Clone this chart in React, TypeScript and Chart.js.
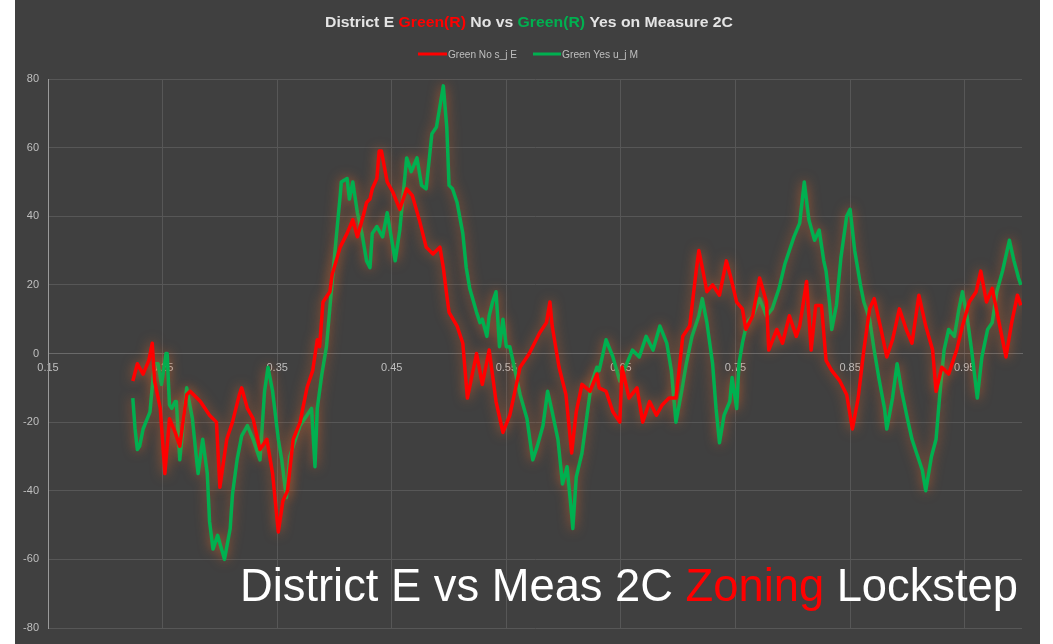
import React, { useEffect, useRef } from "react";
import { Chart, registerables } from "chart.js";

Chart.register(...registerables);

const redLabel = "Green No s_j E";
const greenLabel = "Green Yes u_j M";
const yTicks = [-80, -60, -40, -20, 0, 20, 40, 60, 80];
const xTickLabels = ["0.15", "0.25", "0.35", "0.45", "0.55", "0.65", "0.75", "0.85", "0.95"];

const redX = [0.224, 0.228, 0.233, 0.238, 0.241, 0.243, 0.248, 0.252, 0.256, 0.261, 0.265, 0.271, 0.274, 0.283, 0.291, 0.297, 0.300, 0.306, 0.311, 0.317, 0.319, 0.324, 0.329, 0.335, 0.341, 0.346, 0.351, 0.355, 0.359, 0.364, 0.370, 0.376, 0.381, 0.385, 0.387, 0.390, 0.396, 0.398, 0.405, 0.411, 0.416, 0.420, 0.425, 0.428, 0.431, 0.433, 0.437, 0.439, 0.441, 0.446, 0.451, 0.457, 0.463, 0.468, 0.474, 0.480, 0.486, 0.492, 0.495, 0.498, 0.500, 0.507, 0.509, 0.512, 0.516, 0.524, 0.529, 0.535, 0.541, 0.547, 0.553, 0.562, 0.570, 0.579, 0.585, 0.588, 0.590, 0.596, 0.602, 0.607, 0.611, 0.616, 0.623, 0.629, 0.631, 0.637, 0.643, 0.649, 0.651, 0.657, 0.664, 0.669, 0.675, 0.681, 0.686, 0.692, 0.698, 0.704, 0.710, 0.716, 0.718, 0.721, 0.725, 0.730, 0.736, 0.742, 0.746, 0.751, 0.756, 0.759, 0.765, 0.771, 0.777, 0.779, 0.786, 0.791, 0.797, 0.803, 0.806, 0.812, 0.816, 0.820, 0.825, 0.829, 0.834, 0.841, 0.847, 0.852, 0.857, 0.862, 0.867, 0.871, 0.877, 0.882, 0.887, 0.893, 0.899, 0.904, 0.910, 0.916, 0.922, 0.925, 0.930, 0.936, 0.943, 0.948, 0.954, 0.960, 0.964, 0.969, 0.974, 0.980, 0.986, 0.991, 0.996, 0.999];
const redY = [-8, -3, -6, -2, 3, -8, -16, -35, -19, -23, -27, -12, -11, -14, -18, -20, -39, -25, -20, -12, -10, -16, -19, -28, -25, -35, -52, -43, -40, -25, -20, -10, -5, 4, 2, 15, 18, 23, 31, 35, 39, 34, 40, 44, 45, 48, 51, 59, 59, 50, 47, 42, 48, 46, 39, 31, 29, 31, 25, 17, 12, 8, 6, 3, -13, 0, -9, 1, -14, -23, -18, -4, 0, 6, 9, 15, 8, -4, -12, -29, -17, -9, -11, -6, -10, -11, -17, -20, -4, -13, -10, -20, -14, -18, -15, -13, -13, 5, 8, 25, 30, 25, 18, 20, 17, 27, 22, 15, 13, 7, 11, 22, 15, 1, 7, 3, 11, 5, 8, 21, 1, 14, 14, -2, -5, -8, -12, -22, -13, 1, 13, 16, 7, -1, 4, 13, 7, 3, 17, 8, 1, -11, -4, -6, 1, 8, 15, 18, 24, 15, 19, 9, -1, 9, 17, 14];

const greenX = [0.224, 0.226, 0.228, 0.230, 0.233, 0.239, 0.242, 0.243, 0.246, 0.249, 0.253, 0.254, 0.256, 0.258, 0.261, 0.262, 0.265, 0.271, 0.276, 0.280, 0.281, 0.285, 0.289, 0.291, 0.294, 0.298, 0.304, 0.309, 0.311, 0.315, 0.319, 0.324, 0.329, 0.335, 0.339, 0.342, 0.346, 0.351, 0.354, 0.358, 0.361, 0.365, 0.370, 0.376, 0.380, 0.383, 0.385, 0.389, 0.393, 0.398, 0.403, 0.405, 0.406, 0.411, 0.413, 0.416, 0.420, 0.424, 0.428, 0.431, 0.433, 0.437, 0.442, 0.446, 0.453, 0.457, 0.463, 0.467, 0.472, 0.476, 0.480, 0.485, 0.489, 0.494, 0.495, 0.498, 0.500, 0.503, 0.507, 0.512, 0.515, 0.518, 0.524, 0.527, 0.529, 0.533, 0.535, 0.538, 0.541, 0.544, 0.547, 0.550, 0.553, 0.555, 0.562, 0.568, 0.573, 0.577, 0.582, 0.586, 0.590, 0.595, 0.599, 0.603, 0.607, 0.608, 0.611, 0.616, 0.620, 0.624, 0.629, 0.631, 0.637, 0.643, 0.649, 0.655, 0.660, 0.666, 0.672, 0.678, 0.684, 0.690, 0.694, 0.698, 0.703, 0.707, 0.712, 0.718, 0.721, 0.725, 0.730, 0.733, 0.736, 0.740, 0.745, 0.747, 0.751, 0.753, 0.756, 0.760, 0.765, 0.771, 0.777, 0.782, 0.788, 0.793, 0.797, 0.801, 0.806, 0.810, 0.814, 0.819, 0.823, 0.827, 0.829, 0.832, 0.834, 0.838, 0.842, 0.847, 0.850, 0.854, 0.859, 0.862, 0.867, 0.871, 0.875, 0.880, 0.882, 0.887, 0.891, 0.895, 0.900, 0.904, 0.909, 0.913, 0.916, 0.921, 0.925, 0.928, 0.932, 0.936, 0.941, 0.945, 0.948, 0.952, 0.956, 0.961, 0.965, 0.970, 0.974, 0.978, 0.983, 0.989, 0.993, 0.997, 0.999];
const greenY = [-13, -22, -28, -27, -22, -17, -6, -3, -3, -9, 0, 0, -15, -16, -14, -14, -31, -10, -19, -32, -35, -25, -35, -49, -57, -53, -60, -51, -41, -31, -24, -21, -25, -31, -11, -4, -11, -25, -31, -42, -30, -26, -21, -18, -16, -33, -16, -6, 2, 21, 39, 46, 50, 51, 45, 50, 41, 35, 27, 25, 35, 37, 34, 41, 27, 36, 57, 53, 57, 49, 48, 64, 66, 76, 78, 66, 49, 48, 44, 35, 25, 19, 12, 9, 10, 5, 11, 15, 18, 2, 10, 2, 2, -1, -12, -19, -31, -27, -21, -11, -17, -25, -38, -33, -47, -51, -36, -29, -19, -9, -4, -5, 4, -1, -8, -3, 1, -1, 5, 1, 8, 3, -5, -20, -11, -3, 5, 11, 16, 9, -3, -16, -26, -18, -14, -7, -16, -3, 3, 9, 11, 16, 11, 13, 19, 26, 30, 34, 38, 50, 39, 33, 36, 27, 24, 15, 7, 14, 28, 40, 42, 30, 20, 15, 10, 1, -7, -16, -22, -13, -3, -11, -19, -25, -30, -34, -40, -30, -25, -13, 1, 7, 5, 13, 18, 11, 1, -13, -1, 7, 9, 18, 24, 33, 27, 22, 20];

const RED = "#ff0000";
const GREEN = "#00b050";
const LIGHT = "#e4e4e4";
const TICK = "#bfbfbf";
const GRID = "#575757";

function drawParts(ctx: CanvasRenderingContext2D, parts: [string, string][], font: string, left: number, baseline: number, width: number) {
  ctx.save();
  ctx.font = font;
  ctx.textBaseline = "alphabetic";
  ctx.textAlign = "left";
  const total = parts.reduce((s, p) => s + ctx.measureText(p[0]).width, 0);
  ctx.translate(left, baseline);
  ctx.scale(width / total, 1);
  let x = 0;
  for (const [t, c] of parts) {
    ctx.fillStyle = c;
    ctx.fillText(t, x, 0);
    x += ctx.measureText(t).width;
  }
  ctx.restore();
}

const decor = {
  id: "decor",
  beforeDatasetsDraw(chart: any) {
    const ctx = chart.ctx;
    ctx.save();
    ctx.shadowColor = "rgba(215,100,40,0.7)";
    ctx.shadowBlur = 12;
  },
  afterDatasetsDraw(chart: any) {
    chart.ctx.restore();
  },
  afterDraw(chart: any) {
    const ctx: CanvasRenderingContext2D = chart.ctx;
    drawParts(ctx, [["District E ", LIGHT], ["Green(R)", RED], [" No vs ", LIGHT], ["Green(R)", GREEN], [" Yes on Measure 2C", LIGHT]],
      "bold 15px 'Liberation Sans', Arial, sans-serif", 310, 27, 408);
    ctx.save();
    ctx.lineWidth = 3;
    ctx.strokeStyle = RED;
    ctx.beginPath(); ctx.moveTo(403, 54); ctx.lineTo(432, 54); ctx.stroke();
    ctx.strokeStyle = GREEN;
    ctx.beginPath(); ctx.moveTo(518, 54); ctx.lineTo(546, 54); ctx.stroke();
    ctx.restore();
    drawParts(ctx, [[redLabel, TICK]], "10px 'Liberation Sans', Arial, sans-serif", 433, 58, 69);
    drawParts(ctx, [[greenLabel, TICK]], "10px 'Liberation Sans', Arial, sans-serif", 547, 58, 76);
    drawParts(ctx, [["District E vs Meas 2C ", "#ffffff"], ["Zoning", RED], [" Lockstep", "#ffffff"]],
      "46px 'Liberation Sans', Arial, sans-serif", 225, 601, 778);
  },
};

export default function App() {
  const ref = useRef<HTMLCanvasElement | null>(null);
  useEffect(() => {
    if (!ref.current) return;
    const chart = new Chart(ref.current, {
      type: "line",
      data: {
        datasets: [
          { label: redLabel, data: redX.map((x, i) => ({ x, y: redY[i] })), borderColor: RED, backgroundColor: RED, borderWidth: 3.5, pointRadius: 0, tension: 0, borderJoinStyle: "round" },
          { label: greenLabel, data: greenX.map((x, i) => ({ x, y: greenY[i] })), borderColor: GREEN, backgroundColor: GREEN, borderWidth: 3.5, pointRadius: 0, tension: 0, borderJoinStyle: "round" },
        ],
      },
      options: {
        animation: false,
        responsive: false,
        maintainAspectRatio: false,
        layout: { padding: { left: 0, right: 18, top: 79, bottom: 16 } },
        plugins: { legend: { display: false }, title: { display: false }, tooltip: { enabled: false } },
        scales: {
          x: {
            type: "linear",
            position: { y: 0 } as any,
            min: 0.15,
            max: 1.0,
            afterBuildTicks: (s: any) => {
              s.ticks = xTickLabels.map((t) => ({ value: parseFloat(t) }));
            },
            ticks: { color: TICK, font: { family: "'Liberation Sans', Arial, sans-serif", size: 11 }, padding: 8, maxRotation: 0, autoSkip: false, callback: (v: any) => Number(v).toFixed(2) },
            grid: { color: GRID, drawTicks: false },
            border: { color: "#6a6a6a" },
          },
          y: {
            min: -80,
            max: 80,
            afterBuildTicks: (s: any) => {
              s.ticks = yTicks.map((v) => ({ value: v }));
            },
            afterFit: (s: any) => { s.width = 33; },
            ticks: { color: TICK, font: { family: "'Liberation Sans', Arial, sans-serif", size: 11 }, padding: 9 },
            grid: { color: GRID, drawTicks: false },
            border: { color: "#9a9a9a" },
          },
        },
      },
      plugins: [decor],
    });
    return () => chart.destroy();
  }, []);
  return (
    <div style={{ position: "fixed", left: 0, top: 0, width: 1053, height: 644, background: "#ffffff" }}>
      <div style={{ position: "absolute", left: 15, top: 0, width: 1025, height: 644, background: "#404040" }}>
        <canvas ref={ref} width={1025} height={644} style={{ display: "block", width: 1025, height: 644 }} />
      </div>
    </div>
  );
}
